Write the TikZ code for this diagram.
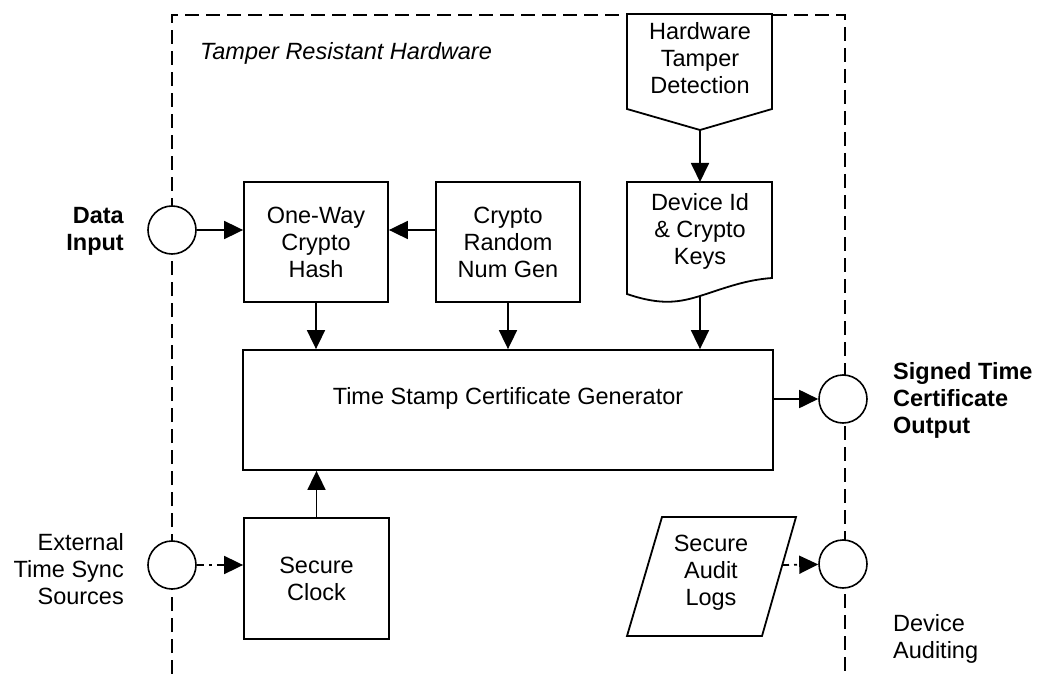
\documentclass[tikz,border=0pt]{standalone}
\usepackage{fontspec}
\setmainfont{Liberation Sans}
\usetikzlibrary{arrows.meta,calc}
\begin{document}
\begin{tikzpicture}[x=1pt,y=-1pt,
  lw/.style={line width=1.8pt},
  blk/.style={draw,line width=1.8pt,rectangle,inner sep=0pt,align=center,font=\fontsize{23.5}{27}\selectfont},
  txt/.style={inner sep=0pt,align=center,font=\fontsize{23.5}{27}\selectfont},
  boldtxt/.style={txt,font=\fontsize{23.5}{27}\selectfont\bfseries},
  port/.style={draw,circle,fill=white,line width=1.6pt,minimum size=48pt,inner sep=0pt},
  arr/.style={line width=1.8pt,-{Triangle[length=19pt,width=18pt]}},
  darr/.style={arr,dash pattern=on 7pt off 5pt on 3pt off 5pt},
  border/.style={line width=1.8pt,dash pattern=on 14pt off 7pt},
]
\useasboundingbox (0,0) rectangle (1037,674);

% dashed enclosure
\draw[border] (172,674) -- (172,15) -- (845,15) -- (845,674);

% hardware tamper detection
\draw[lw,fill=white] (627,14) -- (772,14) -- (772,109) -- (700,130) -- (627,109) -- cycle;
\coordinate (tamptip) at (700,130);
\node[txt] (tamp) at (700,58) {Hardware\\Tamper\\Detection};

% device id document
\draw[lw,fill=white] (627,182) -- (772,182) -- (772,278)
  .. controls (745,280) and (725,288) .. (700,296)
  .. controls (680,302) and (662,306) .. (627,294) -- cycle;
\coordinate (devtop) at (700,182);
\coordinate (devbot) at (700,296);
\node[txt] (devid) at (700,231) {Device Id\\\& Crypto\\Keys};

% boxes
\node[blk,minimum width=144pt,minimum height=120pt] (hash) at (316,242) {One-Way\\Crypto\\Hash};
\node[blk,minimum width=144pt,minimum height=120pt] (rng) at (508,242) {Crypto\\Random\\Num Gen};
\node[blk,minimum width=530pt,minimum height=120pt] (ts) at (508,410) {};
\node[txt] (tstext) at (508,398) {Time Stamp Certificate Generator};
\node[blk,minimum width=145pt,minimum height=121pt] (clock) at (316.5,578.5) {Secure\\Clock};

% audit logs parallelogram
\draw[lw,fill=white] (662,517) -- (796,517) -- (762,636) -- (627,636) -- cycle;
\coordinate (logsR) at (782,565);
\node[txt] (logs) at (711,573) {Secure\\Audit\\Logs};

% ports
\node[port] (din) at (172,230) {};
\node[port] (ext) at (172,565) {};
\node[port] (out) at (843,399) {};
\node[port] (aud) at (843,564) {};

% labels
\node[txt,anchor=base west,font=\fontsize{23.5}{27}\selectfont\itshape] (title) at (200,60) {Tamper Resistant Hardware};
\node[boldtxt,align=right,anchor=east] (dinl) at (124,231) {Data\\Input};
\node[txt,align=right,anchor=east] (extl) at (124,569) {External\\Time Sync\\Sources};
\node[boldtxt,align=left,anchor=west] (outl) at (893,400) {Signed Time\\Certificate\\Output};
\node[txt,align=left,anchor=west] (audl) at (893,639) {Device\\Auditing};

% connectors
\draw[arr] (din) -- (hash.west |- din);
\draw[arr] (rng.west |- din) -- (hash.east |- din);
\draw[arr] (hash.south) -- (hash.south |- ts.north);
\draw[arr] (rng.south) -- (rng.south |- ts.north);
\draw[arr] (devbot) -- (devbot |- ts.north);
\draw[arr] (tamptip) -- (devtop);
\draw[arr] (ts.east |- out) -- (out);
\draw[arr] (clock.north) -- (clock.north |- ts.south);
\draw[darr] (ext) -- (clock.west |- ext);
\draw[darr] (logsR) -- (aud);
\end{tikzpicture}
\end{document}
